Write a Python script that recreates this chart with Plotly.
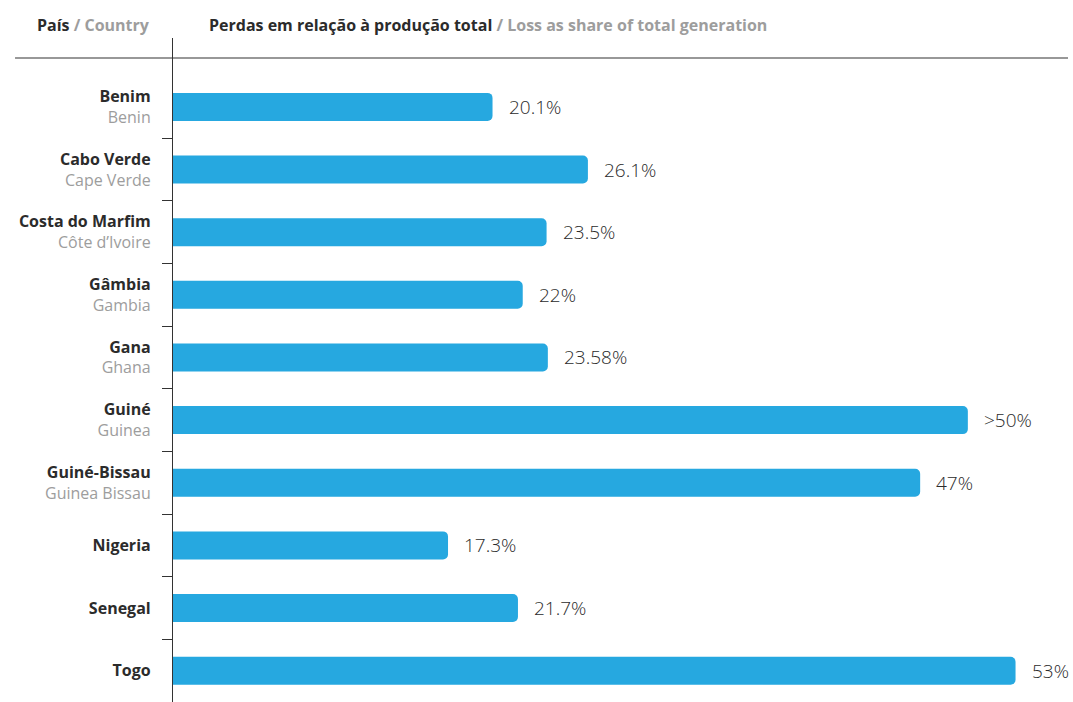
import plotly.graph_objects as go

# Electricity losses as a share of total generation, by country
countries_pt = ["Benim", "Cabo Verde", "Costa do Marfim", "Gâmbia", "Gana",
                "Guiné", "Guiné-Bissau", "Nigeria", "Senegal", "Togo"]
countries_en = ["Benin", "Cape Verde", "Côte d’Ivoire", "Gambia", "Ghana",
                "Guinea", "Guinea Bissau", "", "", ""]
loss_pct = [20.1, 26.1, 23.5, 22, 23.58, 50, 47, 17.3, 21.7, 53]
loss_labels = ["20.1%", "26.1%", "23.5%", "22%", "23.58%",
               ">50%", "47%", "17.3%", "21.7%", "53%"]

DARK = "#2b2b2b"
GREY = "#9d9d9d"
BLUE = "#26a8e0"
FONT = "Open Sans"

positions = list(range(len(countries_pt)))
tick_text = []
for pt, en in zip(countries_pt, countries_en):
    if en:
        tick_text.append(f"<b>{pt}</b><br><span style='color:{GREY}'>{en}</span>")
    else:
        tick_text.append(f"<b>{pt}</b>")

fig = go.Figure()
fig.add_trace(go.Bar(
    x=loss_pct, y=positions, orientation="h", width=0.447,
    marker=dict(color=BLUE, line=dict(width=0)),
    hoverinfo="skip",
))
# empty trace so the boundary-tick axis gets drawn
fig.add_trace(go.Scatter(x=[], y=[], yaxis="y2", hoverinfo="skip"))

annotations = []
for i, (v, lab) in enumerate(zip(loss_pct, loss_labels)):
    annotations.append(dict(
        x=v, y=i, xref="x", yref="y", text=lab, showarrow=False,
        xanchor="left", yanchor="middle", xshift=14,
        font=dict(family=FONT, size=19, color=DARK, weight=300),
    ))

# column headers
annotations.append(dict(
    x=-0.0235, y=1.0196, xref="paper", yref="paper", xanchor="right", yanchor="middle",
    showarrow=False,
    text=f"<b>País</b> <b><span style='color:{GREY}'>/ Country</span></b>",
    font=dict(family=FONT, size=16, color=DARK),
))
annotations.append(dict(
    x=0.038, y=1.0196, xref="paper", yref="paper", xanchor="left", yanchor="middle",
    showarrow=False,
    text=(f"<b>Perdas em relação à produção total</b> "
          f"<b><span style='color:{GREY}'>/ Loss as share of total generation</span></b>"),
    font=dict(family=FONT, size=16, color=DARK),
))

fig.update_layout(
    width=1073, height=702,
    margin=dict(l=173, r=5, t=38, b=0),
    paper_bgcolor="white", plot_bgcolor="white",
    showlegend=False,
    barcornerradius=5,
    font=dict(family=FONT, color=DARK),
    xaxis=dict(range=[0, 56.3], visible=False, fixedrange=True),
    yaxis=dict(
        range=[9.5, -1.1], tickmode="array", tickvals=positions, ticktext=tick_text,
        ticks="", showgrid=False, zeroline=False,
        showline=True, linecolor="#333333", linewidth=1.2,
        ticklabelstandoff=18,
        tickfont=dict(family=FONT, size=16, color=DARK),
    ),
    yaxis2=dict(
        overlaying="y", anchor="x", side="left",
        range=[9.5, -1.1], tickmode="array",
        tickvals=[p + 0.5 for p in positions[:-1]],
        ticks="outside", ticklen=10, tickwidth=1.2, tickcolor="#333333",
        showticklabels=False, showgrid=False, zeroline=False, showline=False,
    ),
    annotations=annotations,
    shapes=[dict(
        type="line", xref="paper", yref="paper",
        x0=-0.1765, x1=1.0, y0=0.9699, y1=0.9699,
        line=dict(color="#333333", width=1.2),
    )],
)

fig.write_html("out.html")
